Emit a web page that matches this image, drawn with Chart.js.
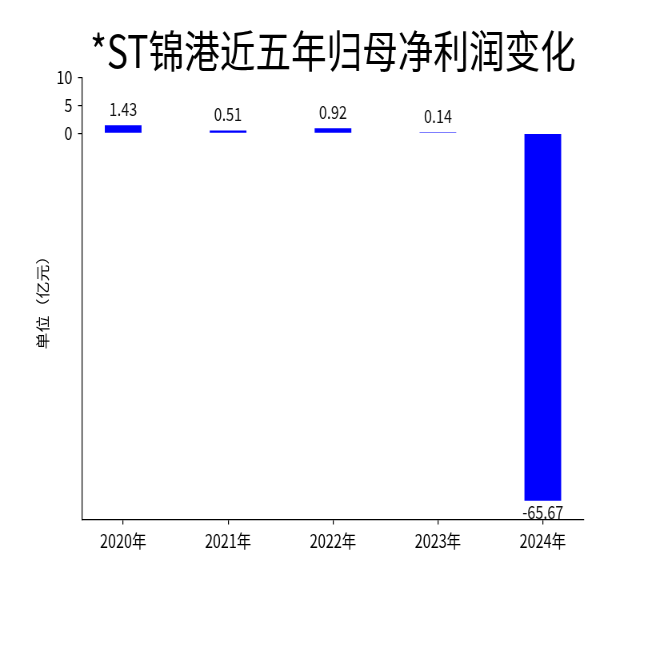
<!DOCTYPE html>
<html>
<head>
<meta charset="utf-8">
<script src="https://cdn.jsdelivr.net/npm/chart.js@4.4.0/dist/chart.umd.min.js"></script>
<style>
  html, body { margin: 0; padding: 0; background: #ffffff; overflow: hidden; }
  #wrap {
    width: 813px;
    height: 650px;
    transform: scaleX(0.8);
    transform-origin: 0 0;
  }
</style>
</head>
<body>
<div id="wrap"><canvas id="chart" width="813" height="650"></canvas></div>
<script>
const years = ["2020年", "2021年", "2022年", "2023年", "2024年"];
const netProfit = [1.43, 0.51, 0.92, 0.14, -65.67];
const yTickValues = [0, 5, 10];

const FONT = "'Noto Sans CJK SC', 'Noto Sans', sans-serif";

const valueLabels = {
  id: "valueLabels",
  afterDatasetsDraw(chart) {
    const ctx = chart.ctx;
    const meta = chart.getDatasetMeta(0);
    ctx.save();
    ctx.fillStyle = "#111111";
    ctx.font = `18px ${FONT}`;
    ctx.textAlign = "center";
    ctx.textBaseline = "alphabetic";
    meta.data.forEach((bar, index) => {
      const value = netProfit[index];
      const y = value >= 0 ? bar.y - 9 : bar.y + 18;
      ctx.fillText(value.toFixed(2), bar.x, y);
    });
    ctx.restore();
  }
};

new Chart(document.getElementById("chart"), {
  type: "bar",
  data: {
    datasets: [{
      data: netProfit.map((value, index) => ({ x: index, y: value })),
      backgroundColor: "#0000ff",
      borderWidth: 0,
      minBarLength: 1,
      categoryPercentage: 1,
      barPercentage: 0.35
    }]
  },
  options: {
    responsive: false,
    animation: false,
    layout: { padding: { top: 0, left: 0, right: 83, bottom: 92 } },
    plugins: {
      legend: { display: false },
      tooltip: { enabled: false },
      title: {
        display: true,
        text: "*ST锦港近五年归母净利润变化",
        fullSize: false,
        color: "#000000",
        font: { family: FONT, size: 44.5, weight: "normal" },
        padding: { top: 24, bottom: 0 }
      }
    },
    scales: {
      x: {
        type: "linear",
        offset: false,
        min: -0.3925,
        max: 4.3925,
        afterBuildTicks: scale => {
          scale.ticks = years.map((_, index) => ({ value: index }));
        },
        ticks: {
          color: "#000000",
          padding: 6,
          maxRotation: 0,
          font: { family: FONT, size: 18 },
          callback: value => years[value]
        },
        grid: {
          offset: false,
          drawOnChartArea: false,
          drawTicks: true,
          tickLength: 5,
          color: "#000000",
          lineWidth: 1.2
        },
        border: { display: true, color: "#000000", width: 1.2 }
      },
      y: {
        min: -69.02,
        max: 10,
        afterBuildTicks: scale => {
          scale.ticks = yTickValues.map(value => ({ value }));
        },
        afterFit: scale => {
          scale.width = 102.5;
        },
        ticks: {
          color: "#000000",
          padding: 7,
          font: { family: FONT, size: 18 }
        },
        grid: {
          drawOnChartArea: false,
          drawTicks: true,
          tickLength: 5,
          color: "#000000",
          lineWidth: 1.2
        },
        border: { display: true, color: "#000000", width: 1.2 },
        title: {
          display: true,
          text: "单位（亿元）",
          color: "#000000",
          font: { family: FONT, size: 17 },
          padding: { top: 43, bottom: 0 }
        }
      }
    }
  },
  plugins: [valueLabels]
});
</script>
</body>
</html>
